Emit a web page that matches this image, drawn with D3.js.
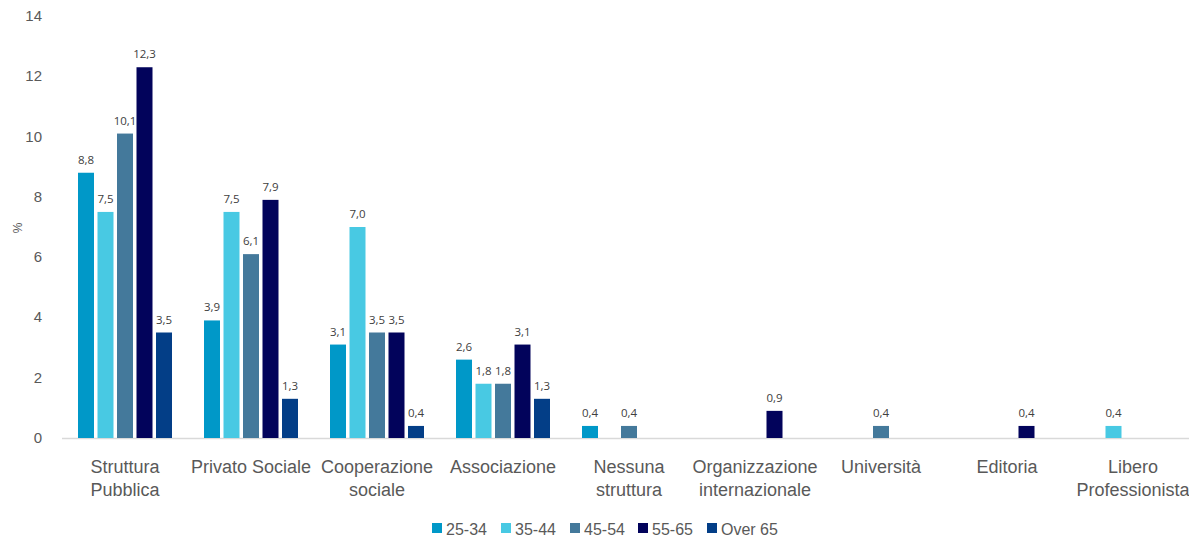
<!DOCTYPE html>
<html><head><meta charset="utf-8">
<script src="https://cdn.jsdelivr.net/npm/d3@7"></script>
<style>body{margin:0;background:#fff}svg{display:block}</style>
</head><body>
<svg id="c" width="1189" height="537"></svg>
<script>
const categories = [["Struttura","Pubblica"],["Privato Sociale"],["Cooperazione","sociale"],["Associazione"],["Nessuna","struttura"],["Organizzazione","internazionale"],["Università"],["Editoria"],["Libero","Professionista"]];
const seriesNames = ["25-34","35-44","45-54","55-65","Over 65"];
const colors = ["#0098c8","#48c9e3","#44799b","#02035b","#033e87"];
const s2534 = [8.8,3.9,3.1,2.6,0.4,null,null,null,null];
const s3544 = [7.5,7.5,7.0,1.8,null,null,null,null,0.4];
const s4554 = [10.1,6.1,3.5,1.8,0.4,null,0.4,null,null];
const s5565 = [12.3,7.9,3.5,3.1,null,0.9,null,0.4,null];
const sOver65 = [3.5,1.3,0.4,1.3,null,null,null,null,null];
const series = [s2534,s3544,s4554,s5565,sOver65];
const yTicks = [0,2,4,6,8,10,12,14];

const svg = d3.select("#c");
const font = "'Liberation Sans Narrow','Arial Narrow',sans-serif";
const x0 = d3.scaleBand().domain(d3.range(categories.length)).range([62,1196]).paddingInner(0).paddingOuter(0);
const y = d3.scaleLinear().domain([0,14]).range([438,16]);
const x1 = d3.scaleBand().domain(d3.range(5)).range([0,97.5]);
const bw = 16;

svg.append("g").selectAll("text").data(yTicks).join("text")
  .attr("x",42).attr("y",d=>y(d)+5).attr("text-anchor","end")
  .style("font-family",font).style("font-size","15px").attr("fill","#595959").text(d=>d);
svg.append("text").attr("transform","translate(22,228) rotate(-90)").attr("text-anchor","middle")
  .style("font-family","'Liberation Sans',Arial,sans-serif").style("font-size","12px").attr("fill","#595959").text("%");

svg.append("line").attr("x1",62).attr("x2",1189).attr("y1",438.5).attr("y2",438.5).attr("stroke","#d9d9d9").attr("stroke-width",1.5);

series.forEach((s,si)=>{
  const g = svg.append("g");
  const data = s.map((v,i)=>({v,i})).filter(d=>d.v!==null);
  const cx = d=> x0(d.i)+x0.bandwidth()/2 - 48.75 + x1(si) + x1.bandwidth()/2;
  g.selectAll("rect").data(data).join("rect")
    .attr("x",d=>cx(d)-bw/2).attr("width",bw)
    .attr("y",d=>y(d.v)).attr("height",d=>y(0)-y(d.v)).attr("fill",colors[si]);
  g.selectAll("text").data(data).join("text")
    .attr("x",cx).attr("y",d=>y(d.v)-9).attr("text-anchor","middle")
    .style("font-family","'Open Sans','Liberation Sans',Arial,sans-serif").style("font-size","11.5px").attr("fill","#404040")
    .text(d=>d.v.toFixed(1).replace(".",","));
});

const cg = svg.append("g");
categories.forEach((lines,i)=>{
  const t = cg.append("text").attr("x",x0(i)+x0.bandwidth()/2).attr("y",473).attr("text-anchor","middle")
    .style("font-family",font).style("font-size","18px").attr("fill","#595959");
  lines.forEach((l,j)=>t.append("tspan").attr("x",x0(i)+x0.bandwidth()/2).attr("dy",j?23:0).text(l));
});

const lx = [432,501,570,638,707];
const lg = svg.append("g");
seriesNames.forEach((n,i)=>{
  lg.append("rect").attr("x",lx[i]).attr("y",523).attr("width",10).attr("height",10).attr("fill",colors[i]);
  lg.append("text").attr("x",lx[i]+14).attr("y",535).style("font-family",font).style("font-size","16px").attr("fill","#595959").text(n);
});
</script>
</body></html>
